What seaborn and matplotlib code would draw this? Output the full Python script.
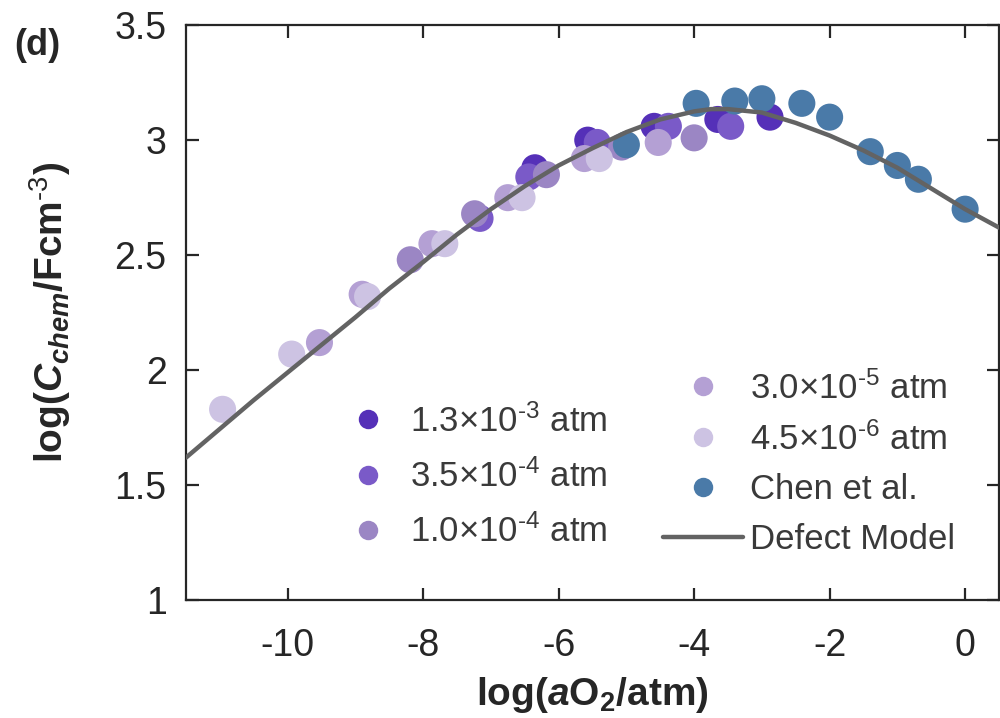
import matplotlib
matplotlib.use("Agg")
import matplotlib.pyplot as plt
import seaborn as sns
import pandas as pd
from matplotlib.lines import Line2D

sns.set_theme(style="ticks")
plt.rcParams['font.family'] = ['Liberation Sans', 'DejaVu Sans']
plt.rcParams['mathtext.fontset'] = 'custom'
plt.rcParams['mathtext.rm'] = 'Liberation Sans'
plt.rcParams['mathtext.it'] = 'Liberation Sans:italic'
plt.rcParams['mathtext.bf'] = 'Liberation Sans:bold'
plt.rcParams['mathtext.bfit'] = 'Liberation Sans:italic:bold'
plt.rcParams['axes.unicode_minus'] = False

# ---- data ----
x_13e3 = [-6.35, -5.57, -4.59, -3.65, -2.88]
y_13e3 = [2.88, 3.00, 3.06, 3.09, 3.10]
x_35e4 = [-7.16, -6.44, -5.43, -4.38, -3.46]
y_35e4 = [2.66, 2.84, 2.99, 3.06, 3.06]
x_10e4 = [-8.19, -7.24, -6.18, -5.07, -4.00]
y_10e4 = [2.48, 2.68, 2.85, 2.97, 3.01]
x_30e5 = [-9.53, -8.90, -7.87, -6.75, -5.62, -4.53]
y_30e5 = [2.12, 2.33, 2.55, 2.75, 2.92, 2.99]
x_45e6 = [-10.96, -9.94, -8.82, -7.68, -6.54, -5.40]
y_45e6 = [1.83, 2.07, 2.32, 2.55, 2.75, 2.92]
x_chen = [-5.00, -3.97, -3.40, -3.00, -2.41, -2.00, -1.40, -1.00, -0.69, 0.00]
y_chen = [2.98, 3.16, 3.17, 3.18, 3.16, 3.10, 2.95, 2.89, 2.83, 2.70]

x_model = [-11.5, -11.0, -10.5, -10.0, -9.5, -9.0, -8.5, -8.0, -7.5, -7.0, -6.5,
           -6.0, -5.5, -5.0, -4.5, -4.0, -3.75, -3.5, -3.0, -2.5, -2.0, -1.5,
           -1.0, -0.5, 0.0, 0.5]
y_model = [1.62, 1.745, 1.87, 1.99, 2.11, 2.23, 2.355, 2.47, 2.59, 2.70, 2.80,
           2.89, 2.965, 3.035, 3.09, 3.125, 3.135, 3.135, 3.12, 3.075, 3.02, 2.955,
           2.88, 2.79, 2.70, 2.62]

labels = [r'1.3×10$^{\text{-3}}$ atm', r'3.5×10$^{\text{-4}}$ atm', r'1.0×10$^{\text{-4}}$ atm',
          r'3.0×10$^{\text{-5}}$ atm', r'4.5×10$^{\text{-6}}$ atm', 'Chen et al.']
colors = ['#5530b8', '#7a5ac8', '#9b86c4', '#b4a0d4', '#cdc3e3', '#4a7aa8']
model_label = 'Defect Model'
model_color = '#636363'

series = [(x_13e3, y_13e3), (x_35e4, y_35e4), (x_10e4, y_10e4),
          (x_30e5, y_30e5), (x_45e6, y_45e6), (x_chen, y_chen)]
frames = []
for (xs, ys), lab in zip(series, labels):
    frames.append(pd.DataFrame({'x': xs, 'y': ys, 'series': lab}))
df = pd.concat(frames, ignore_index=True)
dm = pd.DataFrame({'x': x_model, 'y': y_model})

fig = plt.figure(figsize=(10, 7.18), dpi=100)
ax = fig.add_axes([0.186, 0.164, 0.813, 0.801])

sns.scatterplot(data=df, x='x', y='y', hue='series', hue_order=labels,
                palette=dict(zip(labels, colors)), s=380, linewidth=0,
                alpha=1, ax=ax, legend=False, zorder=2)
sns.lineplot(data=dm, x='x', y='y', color=model_color, linewidth=3.2,
             ax=ax, zorder=3, sort=False)

ax.set_xlim(-11.5, 0.5)
ax.set_ylim(1, 3.5)
ax.set_xticks([-10, -8, -6, -4, -2, 0])
ax.set_yticks([1, 1.5, 2, 2.5, 3, 3.5])
ax.set_yticklabels(['1', '1.5', '2', '2.5', '3', '3.5'])
ax.tick_params(direction='in', length=9, width=1.6, top=True, right=True,
               labelsize=27, colors='#262626')
ax.tick_params(axis='x', pad=20)
ax.tick_params(axis='y', pad=14)
for sp in ax.spines.values():
    sp.set_visible(True)
    sp.set_linewidth(1.6)
    sp.set_color('#262626')

ax.set_xlabel(r'log($\mathbfit{a}$O$_{\mathbf{2}}$/atm)', fontsize=28,
              fontweight='bold', labelpad=8)
ax.set_ylabel(r'log($\mathbfit{C}_{\mathbfit{chem}}$/Fcm$^{\mathbf{\text{-3}}}$)',
              fontsize=28, fontweight='bold', labelpad=30)
fig.text(0.014, 0.937, '(d)', fontsize=26, fontweight='bold', ha='left', va='center')

def mk(c):
    return Line2D([], [], marker='o', linestyle='none', markersize=14,
                  markerfacecolor=c, markeredgewidth=0)

h1 = [mk(c) for c in colors[:3]]
h2 = [mk(c) for c in colors[3:]] + [Line2D([], [], color=model_color, linewidth=3.2)]
leg1 = ax.legend(h1, labels[:3], loc='center left', bbox_to_anchor=(0.16, 0.215),
                 frameon=False, fontsize=25, handlelength=1.2, handletextpad=0.6,
                 labelspacing=0.6, labelcolor='#3a3a3a')
ax.add_artist(leg1)
ax.legend(h2, labels[3:] + [model_label], loc='center left',
          bbox_to_anchor=(0.548, 0.238), frameon=False, fontsize=25,
          handlelength=2.3, handletextpad=0.2, labelspacing=0.48,
          labelcolor='#3a3a3a')

fig.savefig('out.png', dpi=100)
